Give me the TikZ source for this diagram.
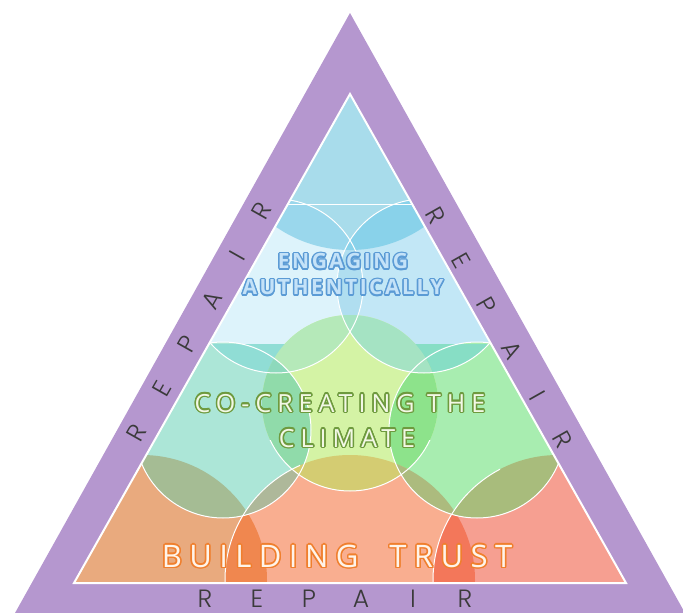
\documentclass[tikz,border=0pt]{standalone}
\usepackage{fontspec}
\usepackage{contour}
\setmainfont{Open Sans}
\newfontfamily\repairfont{Poppins Light}
\newfontfamily\spacedfont{Open Sans}[LetterSpace=24]
\newfontfamily\boldspaced{Open Sans}[LetterSpace=12]
\contourlength{1.5pt}
\contournumber{12}

\definecolor{frame}{HTML}{B597CF}
\definecolor{ink}{HTML}{3A3A3A}
\definecolor{apexblue}{HTML}{A8DCEB}
\definecolor{capL}{HTML}{9AD7EC}
\definecolor{capR}{HTML}{89D2EA}
\definecolor{skyL}{HTML}{DDF3FB}
\definecolor{skyR}{HTML}{C2E7F6}
\definecolor{skymid}{HTML}{B0DEF0}
\definecolor{lensL}{HTML}{90DDD5}
\definecolor{lensR}{HTML}{87DEC5}
\definecolor{tealL}{HTML}{ACE6D7}
\definecolor{leafR}{HTML}{A8EDB0}
\definecolor{limeC}{HTML}{D4F3A5}
\definecolor{mintL}{HTML}{90DBAA}
\definecolor{mintR}{HTML}{8DE38B}
\definecolor{paleL}{HTML}{B5E9B9}
\definecolor{paleR}{HTML}{A5E3C3}
\definecolor{triple}{HTML}{8DD9BC}
\definecolor{peachL}{HTML}{E9AA7E}
\definecolor{peachM}{HTML}{F9AE90}
\definecolor{peachR}{HTML}{F69F91}
\definecolor{rustL}{HTML}{F0874F}
\definecolor{rustR}{HTML}{F3775A}
\definecolor{oliveL}{HTML}{A5BC94}
\definecolor{greyL}{HTML}{AEB89A}
\definecolor{mustard}{HTML}{D4CC72}
\definecolor{oliveM}{HTML}{ACBB7E}
\definecolor{oliveR}{HTML}{A8BC7C}
\definecolor{engageline}{HTML}{5B9BD5}
\definecolor{engagefill}{HTML}{C4E2F8}
\definecolor{climateline}{HTML}{6E9A3E}
\definecolor{climatefill}{HTML}{F3F8E6}
\definecolor{trustline}{HTML}{F07F2D}
\definecolor{trustfill}{HTML}{FFF4EA}

% the three rows of circles
\def\pyramid{(350,94) -- (74,583) -- (626,583) -- cycle}
\def\apexC{(350,120) circle[radius=130pt]}
\def\blueL{(276,286) circle[radius=87pt]}
\def\blueR{(424,286) circle[radius=87pt]}
\def\greenL{(223,430) circle[radius=88pt]}
\def\greenC{(350,403) circle[radius=88pt]}
\def\greenR{(477,430) circle[radius=88pt]}
\def\orangeL{(142,580) circle[radius=125pt]}
\def\orangeM{(350,580) circle[radius=125pt]}
\def\orangeR{(558,580) circle[radius=125pt]}
\def\midband{(0,344) rectangle (683,613)}

% fill the part of #2 that lies in #1
\newcommand\both[3]{\begin{scope}\clip #1;\fill[#3] #2;\end{scope}}

\tikzset{
  repair/.style={font=\repairfont\fontsize{25}{25}\selectfont, text=ink, inner sep=0pt},
  toptext/.style={font=\boldspaced\bfseries\fontsize{21}{21}\selectfont, inner sep=0pt},
  midtext/.style={font=\spacedfont\fontsize{25}{25}\selectfont, inner sep=0pt},
  lowtext/.style={font=\spacedfont\fontsize{31}{31}\selectfont, inner sep=0pt},
  rim/.style={white, line width=1pt}
}

\begin{document}
\begin{tikzpicture}[x=1pt,y=-1pt]
  \useasboundingbox (0,0) rectangle (683,613);
  \fill[frame] (350,13) -- (15,613) -- (685,613) -- cycle;
  \begin{scope}
    \clip \pyramid;
    \fill[skyL] (0,204) rectangle (350,344);
    \fill[skyR] (350,204) rectangle (683,344);
    \fill[tealL] (0,344) rectangle (350,458);
    \fill[leafR] (350,344) rectangle (683,458);
    \fill[peachM] (0,458) rectangle (683,613);
    \fill[apexblue] (0,0) rectangle (683,204);
    \fill[apexblue] \apexC;
    % bottom row
    \fill[peachL] \orangeL;
    \fill[peachM] \orangeM;
    \fill[peachR] \orangeR;
    \both{\orangeL}{\orangeM}{rustL}
    \both{\orangeM}{\orangeR}{rustR}
    % top row
    \fill[skyL] \blueL;
    \fill[skyR] \blueR;
    \both{\blueL}{\blueR}{skymid}
    \both{\apexC}{\blueL}{capL}
    \both{\apexC}{\blueR}{capR}
    % middle row
    \fill[tealL] \greenL;
    \fill[leafR] \greenR;
    \fill[limeC] \greenC;
    \both{\blueL}{\midband}{lensL}
    \both{\blueR}{\midband}{lensR}
    \both{\greenL}{\greenC}{mintL}
    \both{\greenR}{\greenC}{mintR}
    \both{\blueL}{\greenC}{paleL}
    \both{\blueR}{\greenC}{paleR}
    \begin{scope}
      \clip \blueL; \clip \greenL;
      \fill[triple] \greenC;
    \end{scope}
    \both{\greenL}{\orangeL}{oliveL}
    \both{\greenL}{\orangeM}{greyL}
    \both{\greenC}{\orangeM}{mustard}
    \both{\greenR}{\orangeM}{oliveM}
    \both{\greenR}{\orangeR}{oliveR}
    % white rims
    \draw[rim] (0,204) -- (683,204);
    \draw[rim] \blueL;
    \draw[rim] \blueR;
    \draw[rim] \greenL;
    \draw[rim] \greenR;
    \begin{scope}
      \clip (0,440) rectangle (683,613);
      \draw[rim] \greenC;
    \end{scope}
    \begin{scope}
      \clip (0,440) rectangle (300,613);
      \draw[rim] \orangeM;
    \end{scope}
    \begin{scope}
      \clip (0,440) rectangle (500,613);
      \draw[rim] \orangeR;
    \end{scope}
  \end{scope}
  \draw[white, line width=2pt] \pyramid;

  \node[toptext] (engaging) at (343,262) {\contour{engageline}{\color{engagefill}ENGAGING}};
  \node[toptext] (authentic) at (343,288) {\contour{engageline}{\color{engagefill}AUTHENTICALLY}};
  \node[midtext] (cocreate) at (340,404) {\contour{climateline}{\color{climatefill}CO-CREATING THE}};
  \node[midtext] (climate) at (347,439) {\contour{climateline}{\color{climatefill}CLIMATE}};
  \node[lowtext] (trust) at (337,557) {\contour{trustline}{\color{trustfill}BUILDING\ \ TRUST}};

  \foreach \ch [count=\i from 0] in {R,E,P,A,I,R} {
    \node[repair, rotate=60.5] (left\i) at ({137+25*\i},{433-44.4*\i}) {\ch};
    \node[repair, rotate=-60.5] (right\i) at ({436+25.4*\i},{216+44.8*\i}) {\ch};
    \node[repair, anchor=base] (base\i) at ({205+52*\i},607) {\ch};
  }
\end{tikzpicture}
\end{document}
